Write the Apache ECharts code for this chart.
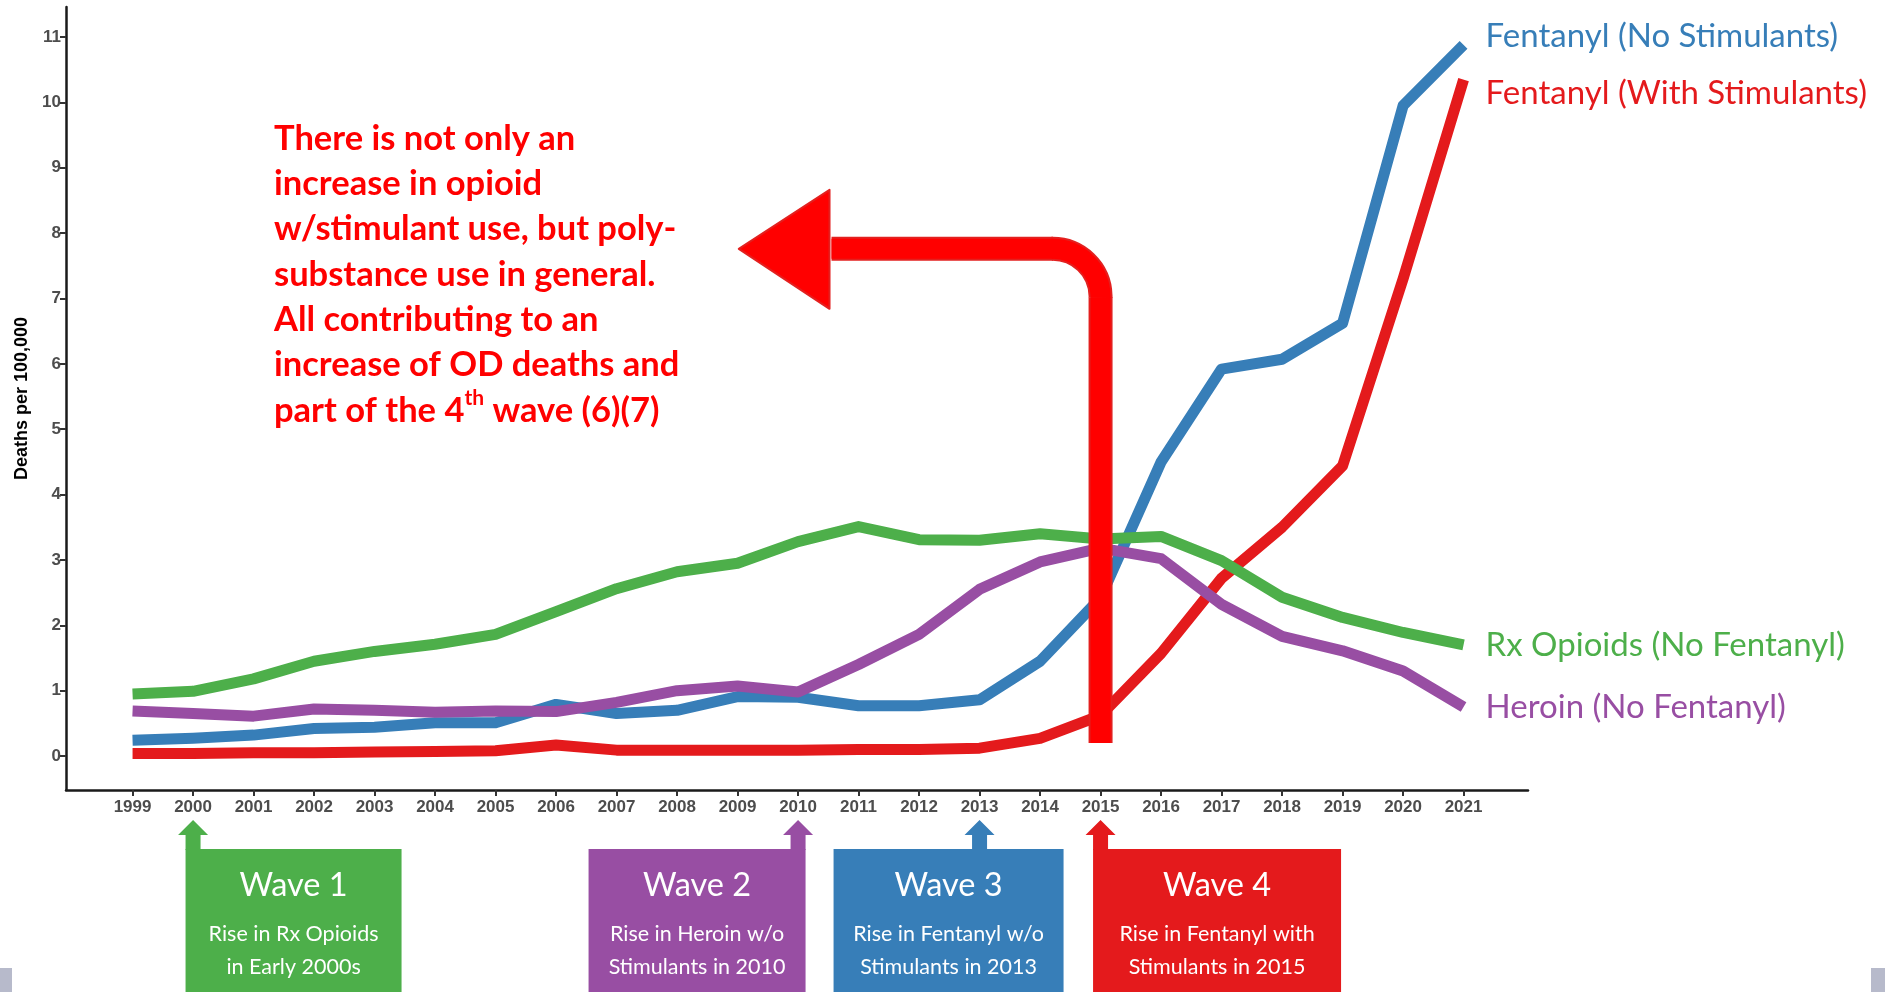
<!DOCTYPE html>
<html>
<head>
<meta charset="utf-8">
<script src="https://cdn.jsdelivr.net/npm/echarts@6/dist/echarts.min.js"></script>
<style>
  html, body { margin: 0; padding: 0; background: #ffffff; }
  #chart { width: 1885px; height: 992px; }
</style>
</head>
<body>
<div id="chart"></div>
<script>
// Overdose deaths per 100,000 by drug category, 1999–2021
const years = [1999, 2000, 2001, 2002, 2003, 2004, 2005, 2006, 2007, 2008, 2009, 2010,
               2011, 2012, 2013, 2014, 2015, 2016, 2017, 2018, 2019, 2020, 2021];
const fentanylNoStim = [0.24, 0.27, 0.32, 0.42, 0.44, 0.51, 0.51, 0.79, 0.65, 0.70, 0.91, 0.90,
                        0.77, 0.77, 0.86, 1.45, 2.42, 4.50, 5.92, 6.07, 6.62, 9.95, 10.88];
const fentanylWithStim = [0.04, 0.04, 0.05, 0.05, 0.06, 0.07, 0.08, 0.17, 0.09, 0.09, 0.09, 0.09,
                          0.10, 0.10, 0.12, 0.27, 0.62, 1.57, 2.72, 3.50, 4.44, 7.30, 10.35];
const rxOpioids = [0.95, 0.99, 1.18, 1.45, 1.60, 1.71, 1.86, 2.21, 2.56, 2.82, 2.95, 3.28,
                   3.51, 3.31, 3.30, 3.40, 3.32, 3.36, 2.99, 2.43, 2.12, 1.89, 1.70];
const heroin = [0.69, 0.65, 0.61, 0.72, 0.70, 0.67, 0.69, 0.68, 0.82, 1.00, 1.07, 0.98,
                1.40, 1.86, 2.55, 2.97, 3.18, 3.02, 2.32, 1.83, 1.61, 1.30, 0.75];
const yTicks = [0, 1, 2, 3, 4, 5, 6, 7, 8, 9, 10, 11];

const waves = [
  { title: 'Wave 1', lines: ['Rise in Rx Opioids', 'in Early 2000s'], year: 2000, color: '#4daf4a' },
  { title: 'Wave 2', lines: ['Rise in Heroin w/o', 'Stimulants in 2010'], year: 2010, color: '#984ea3' },
  { title: 'Wave 3', lines: ['Rise in Fentanyl w/o', 'Stimulants in 2013'], year: 2013, color: '#377eb8' },
  { title: 'Wave 4', lines: ['Rise in Fentanyl with', 'Stimulants in 2015'], year: 2015, color: '#e41a1c' }
];

const noteLines = [
  'There is not only an',
  'increase in opioid',
  'w/stimulant use, but poly-',
  'substance use in general.',
  'All contributing to an',
  'increase of OD deaths and',
  'part of the 4{sup|th} wave (6)(7)'
];

const pairs = vals => years.map((y, i) => [y, vals[i]]);

function lineSeries(name, vals, color, offsetY, z) {
  return {
    type: 'line',
    name: name,
    data: pairs(vals),
    symbol: 'none',
    z: z,
    lineStyle: { color: color, width: 11, cap: 'butt', join: 'round' },
    itemStyle: { color: color },
    emphasis: { disabled: true },
    endLabel: {
      show: true,
      formatter: '{a}',
      color: color,
      fontFamily: 'Lato',
      fontSize: 33,
      distance: 22,
      offset: [0, offsetY]
    }
  };
}

const chart = echarts.init(document.getElementById('chart'), null, { renderer: 'canvas' });

const tickFont = { color: '#4d4d4d', fontWeight: 'bold', fontSize: 17, fontFamily: 'Liberation Sans' };

chart.setOption({
  animation: false,
  backgroundColor: '#ffffff',
  grid: { left: 66, top: 7, width: 1462, height: 783, outerBoundsMode: 'none', containLabel: false },
  xAxis: {
    type: 'value',
    min: 1997.9,
    max: 2022.065,
    axisLine: { onZero: false, lineStyle: { color: '#1a1a1a', width: 2.5 } },
    axisTick: { customValues: years, length: 6, lineStyle: { color: '#333333', width: 2 } },
    axisLabel: Object.assign({ customValues: years, margin: 9, formatter: v => String(v) }, tickFont),
    splitLine: { show: false }
  },
  yAxis: {
    type: 'value',
    min: -0.52,
    max: 11.46,
    name: 'Deaths per 100,000',
    nameLocation: 'middle',
    nameGap: 34,
    nameTextStyle: { color: '#000000', fontWeight: 'bold', fontSize: 18, fontFamily: 'Liberation Sans' },
    axisLine: { show: true, onZero: false, lineStyle: { color: '#1a1a1a', width: 2.5 } },
    axisTick: { show: true, customValues: yTicks, length: 6, lineStyle: { color: '#333333', width: 2 } },
    axisLabel: Object.assign({ customValues: yTicks, margin: 5 }, tickFont),
    splitLine: { show: false }
  },
  series: [
    lineSeries('Fentanyl (No Stimulants)', fentanylNoStim, '#377eb8', -9, 2),
    lineSeries('Fentanyl (With Stimulants)', fentanylWithStim, '#e41a1c', 14, 3),
    lineSeries('Heroin (No Fentanyl)', heroin, '#984ea3', 0, 4),
    lineSeries('Rx Opioids (No Fentanyl)', rxOpioids, '#4daf4a', 0, 5)
  ]
});

// Annotations: callout arrow, note text, wave boxes
const px = (x, y) => chart.convertToPixel({ gridIndex: 0 }, [x, y]);
const graphics = [];

// Bent callout arrow rising from 2015 and pointing back at the note
const base = px(2015, 0.2);
const bend = px(2015, 7.76);
const headBaseX = px(2010.52, 0)[0];
const tipX = px(2009.02, 0)[0];
const r = 48;
function calloutShaft(stroke, width, z) {
  const common = { fill: null, stroke: stroke, lineWidth: width, lineCap: 'butt' };
  graphics.push({
    type: 'polyline', z: z, silent: true,
    shape: { points: [[base[0], base[1]], [base[0], bend[1] + r + 0.5]] },
    style: common
  });
  graphics.push({
    type: 'arc', z: z, silent: true,
    shape: { cx: base[0] - r, cy: bend[1] + r, r: r, startAngle: -Math.PI / 2 - 0.02, endAngle: 0.02, clockwise: true },
    style: common
  });
  graphics.push({
    type: 'polyline', z: z, silent: true,
    shape: { points: [[base[0] - r + 0.5, bend[1]], [headBaseX + 2, bend[1]]] },
    style: common
  });
}
calloutShaft('#e3201f', 24, 100);
calloutShaft('#ff0000', 20, 101);
graphics.push({
  type: 'polygon', z: 102, silent: true,
  shape: { points: [[tipX, bend[1]], [headBaseX, bend[1] - 59], [headBaseX, bend[1] + 60]] },
  style: { fill: '#ff0000', stroke: '#e3201f', lineWidth: 2, lineJoin: 'round' }
});

// Note text
graphics.push({
  type: 'text', z: 110, silent: true,
  x: 274, y: 116,
  style: {
    text: noteLines.join('\n'),
    fill: '#ff0000',
    fontFamily: 'Lato',
    fontWeight: 'bold',
    fontSize: 34.5,
    lineHeight: 45.3,
    verticalAlign: 'top',
    align: 'left',
    rich: {
      sup: {
        fill: '#ff0000', fontFamily: 'Lato', fontWeight: 'bold', fontSize: 21,
        lineHeight: 22, verticalAlign: 'top'
      }
    }
  }
});

// Wave boxes with up-arrows to their year on the axis
const boxSpec = [
  { left: ax => ax - 7.5, width: 216 },
  { left: ax => ax + 7.5 - 217, width: 217 },
  { left: ax => ax - 146, width: 230 },
  { left: ax => ax - 7.5, width: 248 }
];
const arrowTip = 820, headBase = 835, boxTop = 849;
waves.forEach((w, i) => {
  const ax = px(w.year, 0)[0];
  const left = boxSpec[i].left(ax);
  const width = boxSpec[i].width;
  graphics.push({
    type: 'polygon', z: 90, silent: true,
    shape: { points: [[ax, arrowTip], [ax + 15, headBase], [ax + 7.5, headBase], [ax + 7.5, boxTop + 1],
                      [ax - 7.5, boxTop + 1], [ax - 7.5, headBase], [ax - 15, headBase]] },
    style: { fill: w.color }
  });
  graphics.push({
    type: 'rect', z: 90, silent: true,
    shape: { x: left, y: boxTop, width: width, height: 160 },
    style: { fill: w.color }
  });
  const cx = left + width / 2;
  graphics.push({
    type: 'text', z: 91, silent: true, x: cx, y: 886,
    style: { text: w.title, fill: '#ffffff', fontFamily: 'Lato', fontSize: 32.5, align: 'center', verticalAlign: 'middle' }
  });
  graphics.push({
    type: 'text', z: 91, silent: true, x: cx, y: 934,
    style: { text: w.lines[0], fill: '#ffffff', fontFamily: 'Lato', fontSize: 21.5, align: 'center', verticalAlign: 'middle' }
  });
  graphics.push({
    type: 'text', z: 91, silent: true, x: cx, y: 967,
    style: { text: w.lines[1], fill: '#ffffff', fontFamily: 'Lato', fontSize: 21.5, align: 'center', verticalAlign: 'middle' }
  });
});

// Slide-frame corner tabs
graphics.push({ type: 'rect', z: 80, silent: true, shape: { x: 0, y: 968, width: 12, height: 24 }, style: { fill: '#b7bacb' } });
graphics.push({ type: 'rect', z: 80, silent: true, shape: { x: 1871, y: 968, width: 14, height: 24 }, style: { fill: '#b7bacb' } });

chart.setOption({ graphic: { elements: graphics } });
</script>
</body>
</html>
